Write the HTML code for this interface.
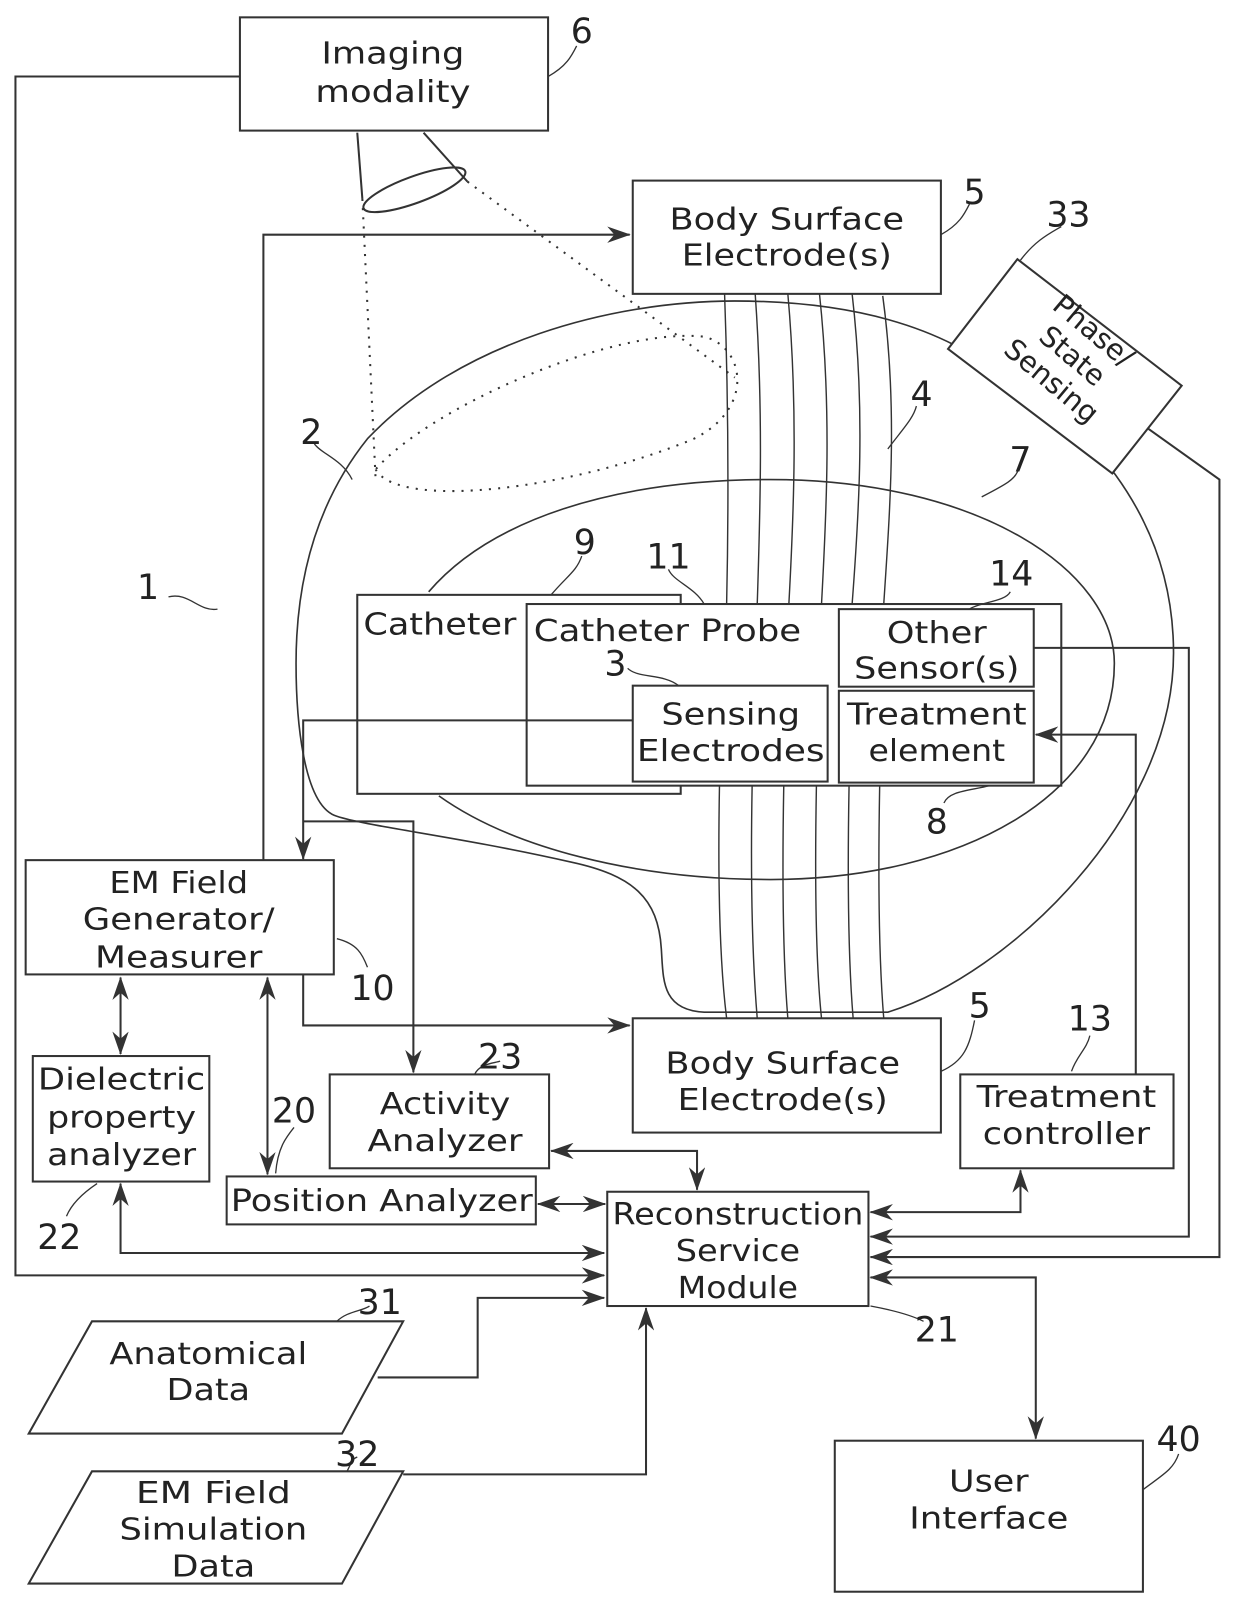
<!DOCTYPE html>
<html><head><meta charset="utf-8"><style>html,body{margin:0;padding:0;background:#fff}svg{display:block}</style></head>
<body>
<svg width="1240" height="1606" viewBox="0 0 1215 1574" xmlns="http://www.w3.org/2000/svg" font-family="DejaVu Sans, Liberation Sans, sans-serif" fill="none" stroke="#333" stroke-width="2">
<defs>
<marker id="a" markerWidth="24" markerHeight="16" refX="22" refY="8" orient="auto-start-reverse" markerUnits="userSpaceOnUse">
<path d="M0,0 L23,8 L0,16 L7,8 Z" fill="#333" stroke="none"/>
</marker>
</defs>
<!-- boxes -->
<rect x="235" y="17" width="302" height="111"/>
<rect x="620" y="177" width="302" height="111"/>
<rect x="350" y="583" width="317" height="195"/>
<rect x="516" y="592" width="524" height="178" fill="#fff"/>
<rect x="822" y="597" width="191" height="76"/>
<rect x="822" y="677" width="191" height="90"/>
<rect x="620" y="672" width="191" height="94"/>
<rect x="25" y="843" width="302" height="112"/>
<rect x="620" y="998" width="302" height="112"/>
<rect x="32" y="1035" width="173" height="123"/>
<rect x="323" y="1053" width="215" height="92"/>
<rect x="222" y="1153" width="303" height="47"/>
<rect x="595" y="1168" width="256" height="112"/>
<rect x="941" y="1053" width="209" height="92"/>
<rect x="818" y="1412" width="302" height="148"/>
<polygon points="90,1295 395,1295 335,1405 28,1405"/>
<polygon points="90,1442 395,1442 335,1552 28,1552"/>
<!-- body shapes -->
<path d="M720,295 C810,295 880,310 935,338 C1070,405 1150,510 1150,640 C1150,800 990,955 870,992 L690,992 C648,990 650,960 648,930 C645,880 620,858 560,845 C450,820 360,810 330,800 C296,790 290,700 290,650 C290,550 320,480 360,430 C450,335 600,295 720,295 Z" stroke-width="1.6"/>
<path d="M420,580 C480,510 600,470 755,470 C960,470 1092,560 1092,650 C1092,780 940,862 755,862 C620,862 500,830 430,780" stroke-width="1.6"/>
<polygon points="997,254 1158,378 1090,464 929,342" fill="#fff"/>
<!-- field lines -->
<g stroke-width="1.4">
<path d="M710,288 C714,400 714,500 712,592"/><path d="M740,288 C748,400 745,500 742,592"/><path d="M772,288 C782,400 778,500 773,592"/><path d="M803,288 C815,400 810,500 805,592"/><path d="M835,288 C848,400 842,500 835,592"/><path d="M865,290 C880,400 872,500 866,592"/>
<path d="M705,770 C703,880 706,950 712,998"/><path d="M737,770 C735,880 738,950 742,998"/><path d="M768,770 C766,880 768,950 772,998"/><path d="M800,770 C798,880 800,950 805,998"/><path d="M832,770 C830,880 832,950 836,998"/><path d="M862,770 C860,880 862,950 866,998"/>
</g>
<!-- cone & dotted -->
<path d="M350,130 L355,195 M415,130 L458,178"/>
<ellipse cx="406" cy="186" rx="53" ry="13" transform="rotate(-20 406 186)"/>
<g stroke-dasharray="2 7" stroke-width="2">
<path d="M355,195 L368,470"/>
<path d="M458,178 L720,370"/>
<path d="M368,460 C390,500 560,480 680,430 C740,400 730,340 690,330 C600,320 420,400 368,460"/>
</g>
<!-- connectors -->
<path d="M235,75 H15 V1250 H592" marker-end="url(#a)"/>
<path d="M258,843 V230 H617" marker-end="url(#a)"/>
<path d="M1125,420 L1195,470 V1232 H853" marker-end="url(#a)"/>
<path d="M620,706 H297 V842" marker-end="url(#a)"/>
<path d="M297,805 H405 V1051" marker-end="url(#a)"/>
<path d="M297,955 V1005 H617" marker-end="url(#a)"/>
<path d="M118,958 V1033" marker-start="url(#a)" marker-end="url(#a)"/>
<path d="M262,958 V1151" marker-start="url(#a)" marker-end="url(#a)"/>
<path d="M540,1128 H683 V1166" marker-start="url(#a)" marker-end="url(#a)"/>
<path d="M527,1180 H593" marker-start="url(#a)" marker-end="url(#a)"/>
<path d="M118,1160 V1228 H592" marker-start="url(#a)" marker-end="url(#a)"/>
<path d="M1113,1053 V720 H1015" marker-end="url(#a)"/>
<path d="M853,1188 H1000 V1147" marker-start="url(#a)" marker-end="url(#a)"/>
<path d="M1013,635 H1165 V1212 H853" marker-end="url(#a)"/>
<path d="M853,1252 H1015 V1410" marker-start="url(#a)" marker-end="url(#a)"/>
<path d="M370,1350 H468 V1272 H592" marker-end="url(#a)"/>
<path d="M395,1445 H633 V1282" marker-end="url(#a)"/>
<!-- leaders -->
<g stroke-width="1.3">
<path d="M537,75 C555,65 560,55 565,45"/>
<path d="M922,230 C940,220 945,210 950,200"/>
<path d="M1000,255 C1015,235 1030,228 1040,222"/>
<path d="M345,470 C335,450 315,445 308,435"/>
<path d="M870,440 C885,420 895,410 898,398"/>
<path d="M962,487 C985,475 995,470 998,460"/>
<path d="M540,583 C555,565 565,560 570,545"/>
<path d="M690,592 C680,575 660,570 655,558"/>
<path d="M950,597 C960,590 985,590 990,580"/>
<path d="M665,672 C650,660 625,665 615,655"/>
<path d="M970,770 C950,775 930,775 925,787"/>
<path d="M330,920 C350,925 355,935 360,948"/>
<path d="M922,1050 C945,1040 950,1025 955,1000"/>
<path d="M1050,1050 C1055,1035 1065,1028 1068,1015"/>
<path d="M465,1053 C470,1042 485,1042 490,1040"/>
<path d="M270,1150 C272,1125 280,1115 288,1105"/>
<path d="M95,1160 C80,1170 70,1180 65,1192"/>
<path d="M853,1280 C880,1285 895,1290 905,1295"/>
<path d="M1120,1460 C1140,1445 1150,1440 1155,1425"/>
<path d="M330,1295 C340,1285 355,1285 362,1280"/>
<path d="M340,1442 C345,1432 345,1430 350,1428"/>
<path d="M165,585 C185,580 195,600 213,597"/>
</g>
<!-- text -->
<g fill="#222" stroke="none" font-size="30" text-anchor="middle" lengthAdjust="spacingAndGlyphs">
<text x="385" y="62" textLength="140" lengthAdjust="spacingAndGlyphs">Imaging</text>
<text x="385" y="100" textLength="152" lengthAdjust="spacingAndGlyphs">modality</text>
<text x="771" y="225" textLength="230" lengthAdjust="spacingAndGlyphs">Body Surface</text>
<text x="771" y="260" textLength="206" lengthAdjust="spacingAndGlyphs">Electrode(s)</text>
<g transform="translate(1050,350) rotate(40)" font-size="28">
<text x="0" y="-24">Phase/</text><text x="0" y="8">State</text><text x="0" y="40">Sensing</text>
</g>
<text x="431" y="622" textLength="150" lengthAdjust="spacingAndGlyphs">Catheter</text>
<text x="654" y="628" textLength="262" lengthAdjust="spacingAndGlyphs">Catheter Probe</text>
<text x="918" y="630" textLength="98" lengthAdjust="spacingAndGlyphs">Other</text>
<text x="918" y="665" textLength="162" lengthAdjust="spacingAndGlyphs">Sensor(s)</text>
<text x="716" y="710" textLength="136" lengthAdjust="spacingAndGlyphs">Sensing</text>
<text x="716" y="746" textLength="184" lengthAdjust="spacingAndGlyphs">Electrodes</text>
<text x="918" y="710" textLength="176" lengthAdjust="spacingAndGlyphs">Treatment</text>
<text x="918" y="746" textLength="134" lengthAdjust="spacingAndGlyphs">element</text>
<text x="175" y="875" textLength="136" lengthAdjust="spacingAndGlyphs">EM Field</text>
<text x="175" y="911" textLength="188" lengthAdjust="spacingAndGlyphs">Generator/</text>
<text x="175" y="948" textLength="164" lengthAdjust="spacingAndGlyphs">Measurer</text>
<text x="767" y="1052" textLength="230" lengthAdjust="spacingAndGlyphs">Body Surface</text>
<text x="767" y="1088" textLength="206" lengthAdjust="spacingAndGlyphs">Electrode(s)</text>
<text x="119" y="1068" textLength="164" lengthAdjust="spacingAndGlyphs">Dielectric</text>
<text x="119" y="1105" textLength="146" lengthAdjust="spacingAndGlyphs">property</text>
<text x="119" y="1142" textLength="146" lengthAdjust="spacingAndGlyphs">analyzer</text>
<text x="436" y="1092" textLength="128" lengthAdjust="spacingAndGlyphs">Activity</text>
<text x="436" y="1128" textLength="152" lengthAdjust="spacingAndGlyphs">Analyzer</text>
<text x="374" y="1187" textLength="296" lengthAdjust="spacingAndGlyphs">Position Analyzer</text>
<text x="723" y="1200" textLength="246" lengthAdjust="spacingAndGlyphs">Reconstruction</text>
<text x="723" y="1236" textLength="122" lengthAdjust="spacingAndGlyphs">Service</text>
<text x="723" y="1272" textLength="118" lengthAdjust="spacingAndGlyphs">Module</text>
<text x="1045" y="1085" textLength="176" lengthAdjust="spacingAndGlyphs">Treatment</text>
<text x="1045" y="1121" textLength="164" lengthAdjust="spacingAndGlyphs">controller</text>
<text x="969" y="1462" textLength="78" lengthAdjust="spacingAndGlyphs">User</text>
<text x="969" y="1498" textLength="156" lengthAdjust="spacingAndGlyphs">Interface</text>
<text x="204" y="1337" textLength="194" lengthAdjust="spacingAndGlyphs">Anatomical</text>
<text x="204" y="1372" textLength="82" lengthAdjust="spacingAndGlyphs">Data</text>
<text x="209" y="1473" textLength="152" lengthAdjust="spacingAndGlyphs">EM  Field</text>
<text x="209" y="1509" textLength="184" lengthAdjust="spacingAndGlyphs">Simulation</text>
<text x="209" y="1545" textLength="82" lengthAdjust="spacingAndGlyphs">Data</text>
</g>
<g fill="#222" stroke="none" font-size="34" text-anchor="middle">
<text x="570" y="42">6</text>
<text x="955" y="200">5</text>
<text x="1047" y="222">33</text>
<text x="903" y="398">4</text>
<text x="305" y="435">2</text>
<text x="1000" y="462">7</text>
<text x="573" y="543">9</text>
<text x="655" y="557">11</text>
<text x="991" y="574">14</text>
<text x="603" y="662">3</text>
<text x="918" y="817">8</text>
<text x="145" y="587">1</text>
<text x="365" y="980">10</text>
<text x="960" y="997">5</text>
<text x="1068" y="1010">13</text>
<text x="490" y="1047">23</text>
<text x="288" y="1100">20</text>
<text x="58" y="1224">22</text>
<text x="918" y="1315">21</text>
<text x="372" y="1288">31</text>
<text x="350" y="1437">32</text>
<text x="1155" y="1422">40</text>
</g>
</svg>
</body></html>
